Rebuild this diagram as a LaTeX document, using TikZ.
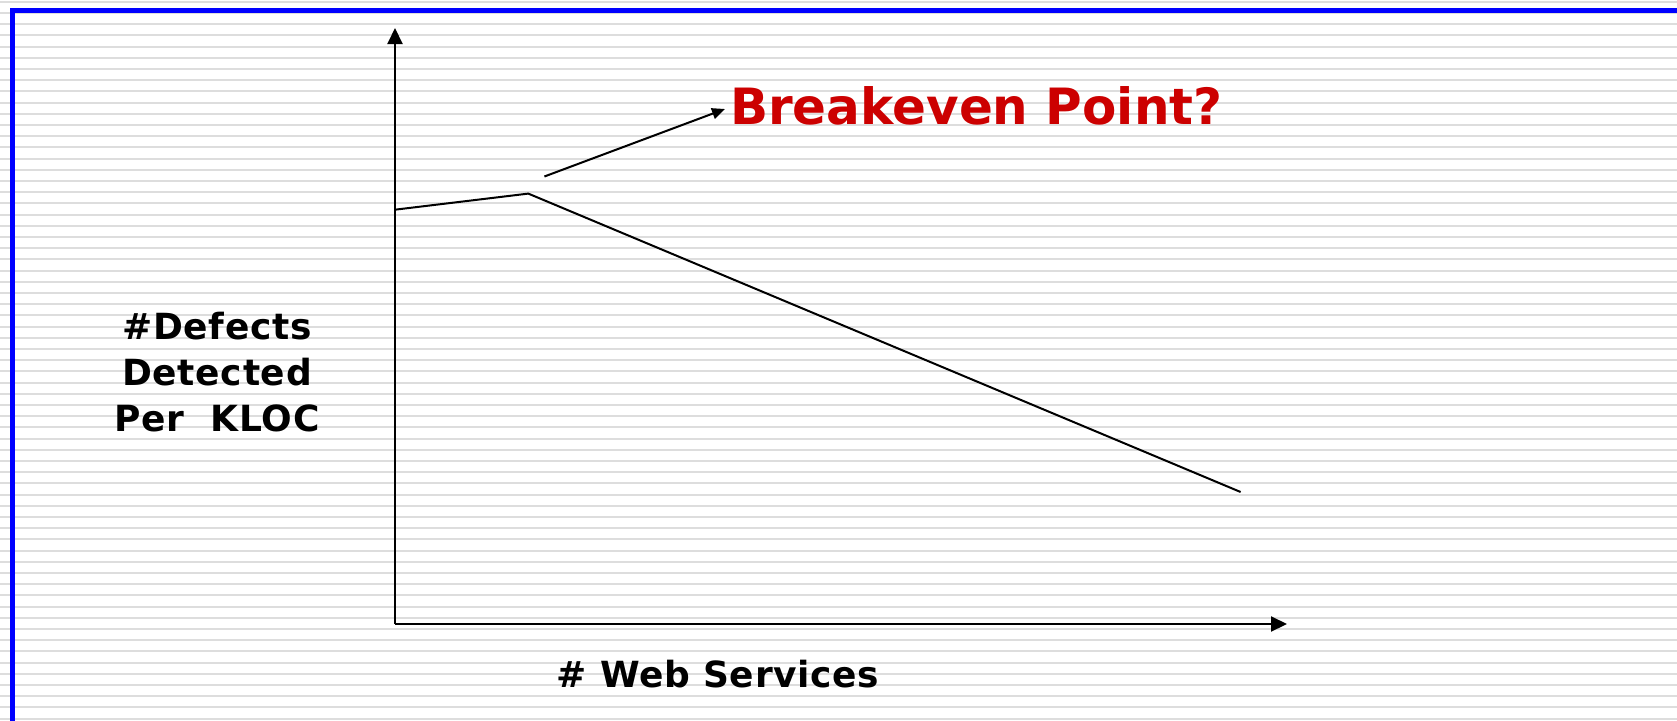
\documentclass[tikz,border=0pt]{standalone}
\usepackage{fontspec}
\setmainfont{DejaVu Sans}
\newfontfamily\lblfont[LetterSpace=2]{DejaVu Sans}
\usetikzlibrary{arrows.meta}
\definecolor{stripegray}{HTML}{DDDDDD}
\definecolor{frameblue}{HTML}{0000FF}
\definecolor{titlered}{HTML}{CC0000}
\tikzset{
	axis/.style={line width=2pt,-{Triangle[length=16pt,width=15pt]}},
	pointer/.style={line width=2pt,-{Triangle[length=13pt,width=11pt]}},
	curve/.style={line width=2pt},
	lbl/.style={font=\lblfont\fontsize{36}{46}\selectfont\bfseries,align=center,inner sep=0pt},
	title/.style={font=\fontsize{50}{60}\selectfont\bfseries,text=titlered,inner sep=0pt}
}
\begin{document}
\begin{tikzpicture}[x=1pt,y=-1pt]
	% Background
	\useasboundingbox (0,0) rectangle (1677,720);
	\fill [white] (0,0) rectangle (1677,720);
	\foreach \i in {0,...,64}
		\draw [stripegray,line width=2pt] (0,1.7+11.2*\i) -- (1677,1.7+11.2*\i);
	\draw [frameblue,line width=5pt] (12.5,722) -- (12.5,10.5) -- (1680,10.5);
	%Axes
	\coordinate (origin) at (395,624);
	\coordinate (ytop) at (395,28);
	\coordinate (xend) at (1287,624);
	\draw [axis] (origin) -- (ytop);
	\draw [axis] (origin) -- (xend);
	%Defect curve
	\coordinate (c0) at (395.7,209.6);
	\coordinate (c1) at (528.3,193.6);
	\coordinate (c2) at (1240.6,492);
	\draw [curve] (c0) -- (c1) -- (c2);
	%Labels
	\node[title,anchor=base west] (breakeven) at (730,124) {Breakeven Point?};
	\coordinate (bstart) at (544.4,176.5);
	\draw [pointer] (bstart) -- ([xshift=-5pt,yshift=15pt]breakeven.base west);
	\node[lbl] (ylabel) at (217,372) {\#Defects\\Detected\\Per\ \ KLOC};
	\node[lbl] (xlabel) at (718,674) {\# Web Services};
\end{tikzpicture}
\end{document}
